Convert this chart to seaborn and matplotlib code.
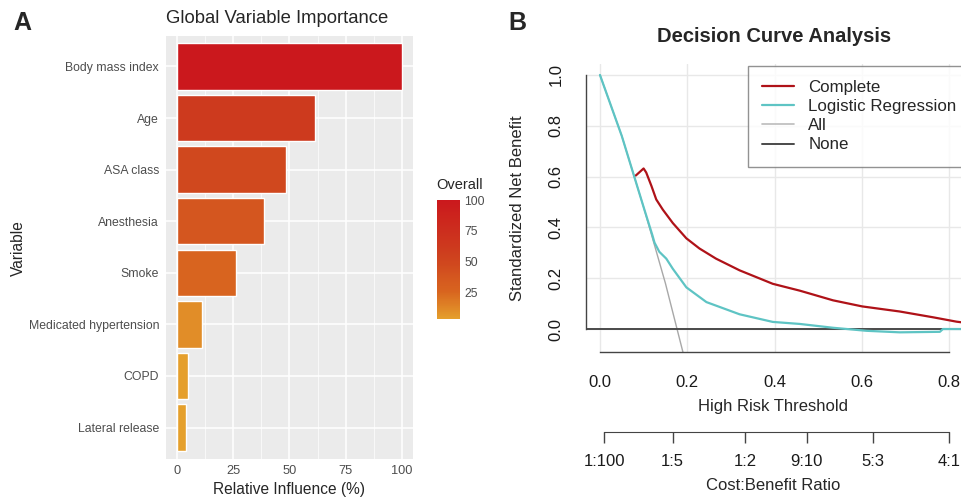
import matplotlib
matplotlib.use("Agg")
import matplotlib.pyplot as plt
from matplotlib.colors import LinearSegmentedColormap, Normalize
from matplotlib.cm import ScalarMappable
from matplotlib.lines import Line2D
import seaborn as sns

sns.set_style("white")
plt.rcParams["font.family"] = ["Liberation Sans", "DejaVu Sans"]

# panel A: variable importance
variables = ["Body mass index", "Age", "ASA class", "Anesthesia", "Smoke",
             "Medicated hypertension", "COPD", "Lateral release"]
influence = [100.0, 61.6, 48.3, 38.5, 26.2, 11.1, 4.7, 4.0]

# panel B: decision curves
thr_lr = [0.0, 0.05, 0.10, 0.12, 0.125, 0.136, 0.152, 0.167, 0.198, 0.244, 0.32,
          0.396, 0.458, 0.534, 0.611, 0.687, 0.779, 0.786, 0.84]
nb_lr = [1.0, 0.76, 0.48, 0.37, 0.34, 0.304, 0.277, 0.237, 0.164, 0.106, 0.058,
         0.028, 0.02, 0.005, -0.007, -0.013, -0.011, 0.0, 0.0]
thr_complete = [0.082, 0.10, 0.106, 0.118, 0.129, 0.144, 0.167, 0.198, 0.228, 0.266,
                0.32, 0.396, 0.458, 0.534, 0.601, 0.687, 0.764, 0.817, 0.835]
nb_complete = [0.604, 0.632, 0.616, 0.563, 0.51, 0.47, 0.417, 0.357, 0.317, 0.277,
               0.231, 0.178, 0.151, 0.113, 0.089, 0.069, 0.046, 0.029, 0.025]
thr_all = [0.0, 0.05, 0.10, 0.15, 0.19, 0.20]
nb_all = [1.0, 0.76, 0.48, 0.18, -0.09, -0.16]
thr_none = [-0.05, 0.85]
nb_none = [0.0, 0.0]

cb_labels = ["1:100", "1:5", "1:2", "9:10", "5:3", "4:1"]

fig = plt.figure(figsize=(9.61, 4.98), dpi=100)

# ---------------- panel A ----------------
cmap = LinearSegmentedColormap.from_list(
    "imp", [(0.0, "#E5A02C"), (0.08, "#E08A27"), (0.23, "#D8641F"),
            (0.36, "#D4561F"), (0.46, "#D0481E"), (0.6, "#CD3A1E"),
            (1.0, "#CB181D")])
norm = Normalize(vmin=min(influence), vmax=max(influence))
bar_colors = {v: cmap(norm(x)) for v, x in zip(variables, influence)}

axA = fig.add_axes([0.1727, 0.0793, 0.257, 0.8494])
axA.set_facecolor("#EBEBEB")
sns.barplot(x=influence, y=variables, hue=variables, palette=bar_colors,
            legend=False, width=0.9, saturation=1, ax=axA, zorder=3)
axA.set_xlim(-5, 105)
axA.set_ylim(7.6, -0.6)
axA.set_xticks([0, 25, 50, 75, 100])
axA.set_xticks([12.5, 37.5, 62.5, 87.5], minor=True)
axA.grid(which="major", color="white", lw=1.1, zorder=0)
axA.grid(which="minor", axis="x", color="white", lw=0.5, zorder=0)
axA.set_axisbelow(True)
for s in axA.spines.values():
    s.set_visible(False)
axA.tick_params(axis="both", which="major", length=3, width=0.8, color="#333333",
                labelsize=8.8, labelcolor="#4D4D4D", pad=2)
axA.tick_params(axis="x", labelsize=9.2)
axA.tick_params(which="minor", length=0)
axA.set_xlabel("")
axA.set_ylabel("")
fig.text(289 / 961, 1 - 489 / 498, "Relative Influence (%)", ha="center", va="center",
         fontsize=11.2)
fig.text(18 / 961, 1 - 248 / 498, "Variable", ha="center", va="center",
         rotation=90, fontsize=11.2)
fig.text(166 / 961, 1 - 18.5 / 498, "Global Variable Importance", ha="left",
         va="center", fontsize=13.3)

cax = fig.add_axes([436.5 / 961, 1 - 319 / 498, 23.5 / 961, 119 / 498])
cb = fig.colorbar(ScalarMappable(norm=norm, cmap=cmap), cax=cax)
cb.outline.set_visible(False)
cb.set_ticks([25, 50, 75, 100])
cax.tick_params(axis="y", direction="in", color="white", length=4.5, width=0.6,
                left=True, right=True, labelleft=False, labelright=True,
                labelsize=8.8, labelcolor="#4D4D4D", pad=3)
fig.text(436.5 / 961, 1 - 185 / 498, "Overall", ha="left", va="center", fontsize=10.5)

# ---------------- panel B ----------------
red = "#AF1218"
teal = "#5EC4C4"
fs = 12
ax = fig.add_axes([586 / 961, 1 - 352.4 / 498, 377 / 961, 288.1 / 498])
ax.set_xlim(-0.032, 0.832)
ax.set_ylim(-0.092, 1.042)
ax.set_xticks([0.0, 0.2, 0.4, 0.6, 0.8])
ax.set_yticks([0.0, 0.2, 0.4, 0.6, 0.8, 1.0])
ax.grid(True, color="#E8E8E8", lw=1)
ax.set_axisbelow(True)

sns.lineplot(x=thr_all, y=nb_all, ax=ax, color="#A8A8A8", lw=1, estimator=None)
sns.lineplot(x=thr_none, y=nb_none, ax=ax, color="#4A4A4A", lw=1.4, estimator=None)
sns.lineplot(x=thr_complete, y=nb_complete, ax=ax, color=red, lw=1.6, estimator=None)
sns.lineplot(x=thr_lr, y=nb_lr, ax=ax, color=teal, lw=1.6, estimator=None)

for side in ["top", "right"]:
    ax.spines[side].set_visible(False)
ax.spines["left"].set_bounds(0, 1)
ax.spines["bottom"].set_bounds(0, 0.8)
for side in ["left", "bottom"]:
    ax.spines[side].set_color("#444444")
    ax.spines[side].set_linewidth(1)
ax.tick_params(axis="both", direction="out", length=8, width=1, color="#444444",
               labelsize=fs, labelcolor="#1A1A1A", pad=8)
ax.set_yticklabels([f"{v:.1f}" for v in ax.get_yticks()], rotation=90, va="center")
ax.set_xticklabels([f"{v:.1f}" for v in ax.get_xticks()])
ax.set_xlabel("")
ax.set_ylabel("")

cb_pos = [int(a) / (int(a) + int(b)) for a, b in (l.split(":") for l in cb_labels)]
secax = ax.secondary_xaxis(-0.2763)
secax.set_xticks(cb_pos, labels=cb_labels)
secax.spines["bottom"].set_bounds(cb_pos[0], cb_pos[-1])
secax.spines["bottom"].set_color("#444444")
secax.tick_params(axis="x", direction="out", length=8, width=1, color="#444444",
                  labelsize=fs, labelcolor="#1A1A1A", pad=8)

fig.text(773 / 961, 1 - 407 / 498, "High Risk Threshold", ha="center", va="center",
         fontsize=fs)
fig.text(773 / 961, 1 - 485 / 498, "Cost:Benefit Ratio", ha="center", va="center",
         fontsize=fs)
fig.text(518 / 961, 1 - 208 / 498, "Standardized Net Benefit", ha="center",
         va="center", rotation=90, fontsize=fs)
fig.text(774 / 961, 1 - 36 / 498, "Decision Curve Analysis", ha="center",
         va="center", fontsize=14.5, fontweight="bold")

handles = [Line2D([], [], color=red, lw=1.6), Line2D([], [], color=teal, lw=1.6),
           Line2D([], [], color="#BBBBBB", lw=1.2), Line2D([], [], color="#4A4A4A", lw=1.4)]
# legend box runs off the right edge, like the cropped original
leg = fig.legend(handles, ["Complete", "Logistic Regression", "All", "None"],
                 loc="upper left", mode="expand",
                 bbox_to_anchor=(748 / 961, 1 - 65.7 / 498, 300 / 961, 0),
                 fontsize=12.2, frameon=True, fancybox=False, borderaxespad=0,
                 handlelength=1.9, handletextpad=0.82, labelspacing=0.25,
                 borderpad=0.83)
leg.get_frame().set_edgecolor("#777777")
leg.get_frame().set_linewidth(1)

fig.text(22 / 961, 1 - 23 / 498, "A", ha="center", va="center", fontsize=18,
         fontweight="bold")
fig.text(517 / 961, 1 - 22.5 / 498, "B", ha="center", va="center", fontsize=18,
         fontweight="bold")

fig.savefig("out.png", dpi=100)
